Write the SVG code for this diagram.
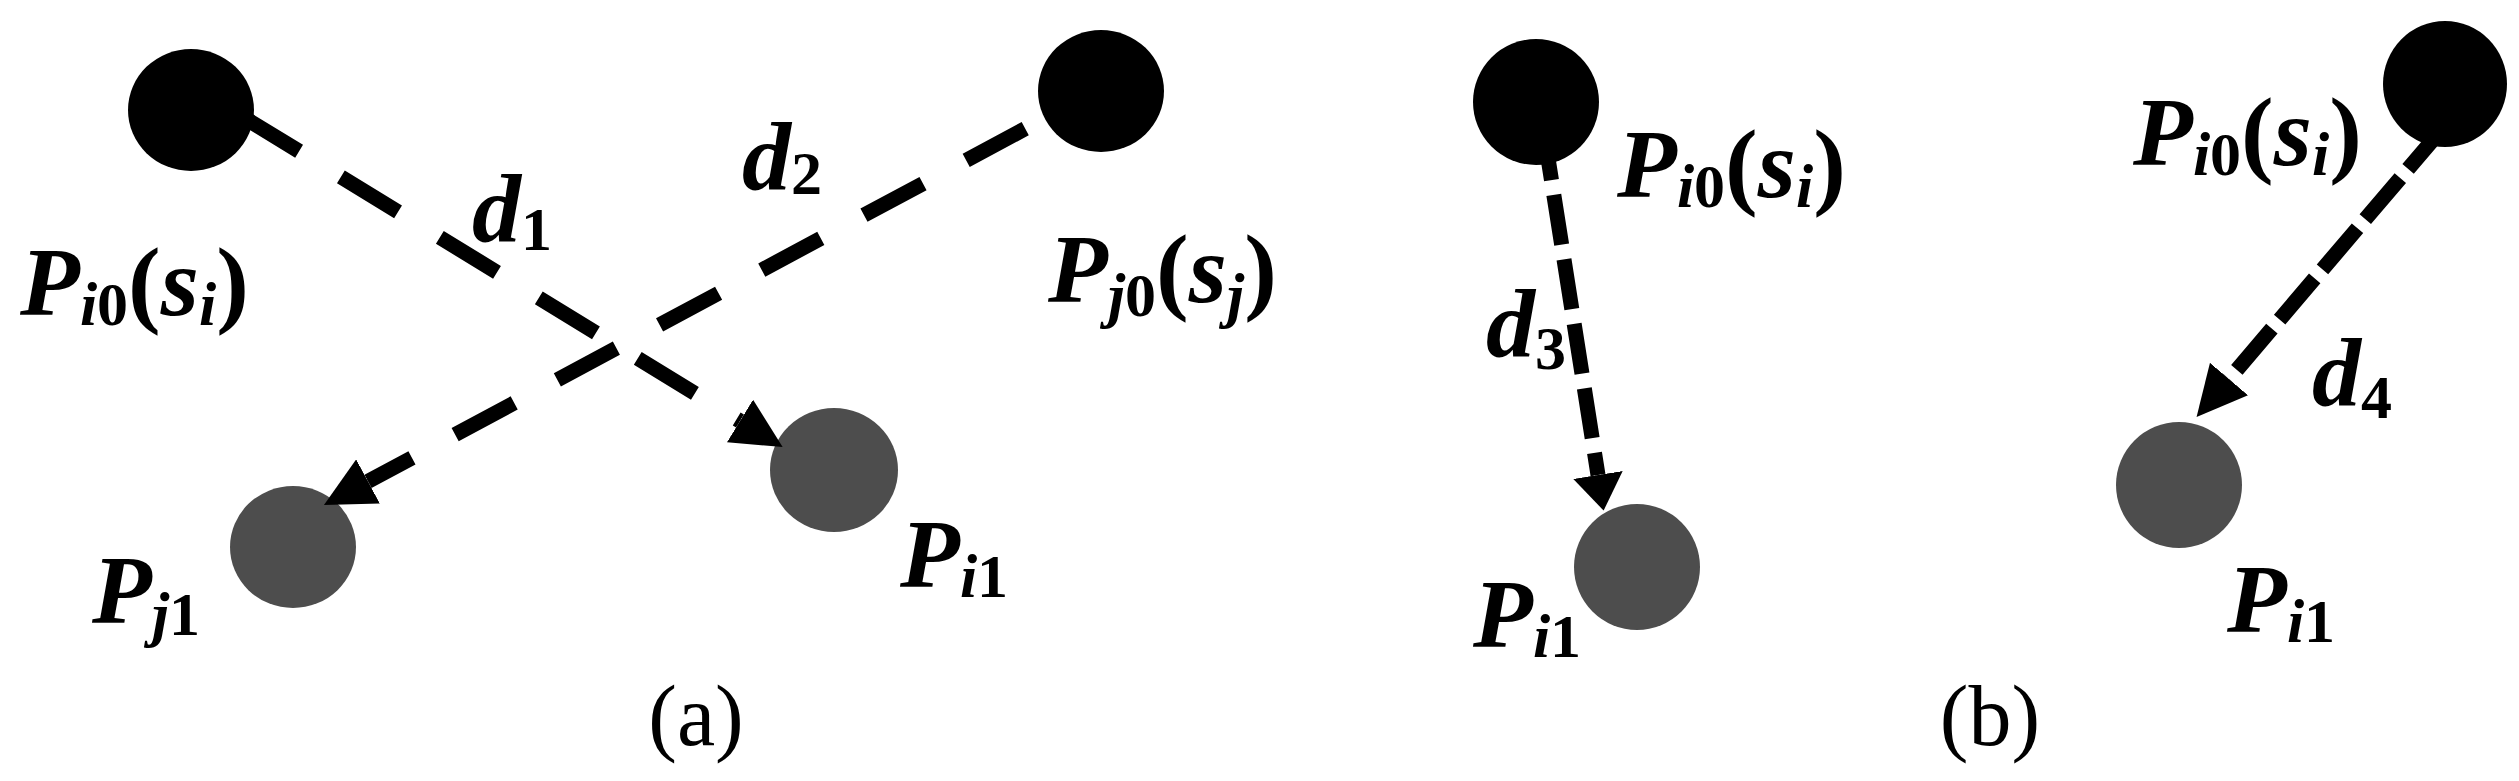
<svg xmlns="http://www.w3.org/2000/svg" width="2519" height="781" viewBox="0 0 2519 781" font-family="Liberation Serif, Times New Roman, serif">
<style>
.blk{fill:#000}
.gry{fill:#4d4d4d}
.conn{fill:none;stroke:#000;stroke-width:15;stroke-linecap:butt}
.lbl{font-family:'Times New Roman','Liberation Serif',Tinos,Times,serif;font-weight:bold;font-size:98px;fill:#000}
.it{font-style:italic}
.sub{font-size:62px}
.cap{font-family:'Times New Roman','Liberation Serif',Tinos,Times,serif;font-size:86px;fill:#000;text-anchor:middle}
</style>
<defs>
<marker id="arr" markerUnits="userSpaceOnUse" viewBox="0 0 50 50" markerWidth="50" markerHeight="50" refX="0" refY="25" orient="auto">
<path d="M0,0 L50,25 L0,50 Z" fill="#000"/>
</marker>
<marker id="arrS" markerUnits="userSpaceOnUse" viewBox="0 0 36 50" markerWidth="36" markerHeight="50" refX="0" refY="25" orient="auto">
<path d="M0,0 L36,25 L0,50 Z" fill="#000"/>
</marker>
</defs>
<rect width="2519" height="781" fill="#fff"/>

<g id="node-Pi0-a">
<ellipse class="blk" cx="191" cy="110" rx="63" ry="61"/>
<text class="lbl" x="20" y="315"><tspan class="it">P</tspan><tspan class="it sub" dy="10">i</tspan><tspan class="sub">0</tspan><tspan dy="-10">(</tspan><tspan class="it">s</tspan><tspan class="it sub" dy="10">i</tspan><tspan dy="-10">)</tspan></text>
</g>
<g id="node-Pj0-a">
<ellipse class="blk" cx="1101" cy="91" rx="63" ry="61"/>
<text class="lbl" x="1048" y="302"><tspan class="it">P</tspan><tspan class="it sub" dy="14">j</tspan><tspan class="sub">0</tspan><tspan dy="-14">(</tspan><tspan class="it">s</tspan><tspan class="it sub" dy="14">j</tspan><tspan dy="-14">)</tspan></text>
</g>
<g id="node-Pj1-a">
<ellipse class="gry" cx="293" cy="547" rx="63" ry="61"/>
<text class="lbl" x="92" y="623"><tspan class="it">P</tspan><tspan class="it sub" dy="12">j</tspan><tspan class="sub">1</tspan></text>
</g>
<g id="node-Pi1-a">
<ellipse class="gry" cx="834" cy="470" rx="64" ry="62"/>
<text class="lbl" x="900" y="587"><tspan class="it">P</tspan><tspan class="it sub" dy="10">i</tspan><tspan class="sub">1</tspan></text>
</g>

<g id="node-Pi0-b1">
<ellipse class="blk" cx="1536" cy="102" rx="63" ry="63"/>
<text class="lbl" x="1617" y="197"><tspan class="it">P</tspan><tspan class="it sub" dy="10">i</tspan><tspan class="sub">0</tspan><tspan dy="-10">(</tspan><tspan class="it">s</tspan><tspan class="it sub" dy="10">i</tspan><tspan dy="-10">)</tspan></text>
</g>
<g id="node-Pi1-b1">
<ellipse class="gry" cx="1637" cy="567" rx="63" ry="63"/>
<text class="lbl" x="1473" y="647"><tspan class="it">P</tspan><tspan class="it sub" dy="10">i</tspan><tspan class="sub">1</tspan></text>
</g>
<g id="node-Pi0-b2">
<ellipse class="blk" cx="2445" cy="84" rx="62" ry="63"/>
<text class="lbl" x="2133" y="165"><tspan class="it">P</tspan><tspan class="it sub" dy="10">i</tspan><tspan class="sub">0</tspan><tspan dy="-10">(</tspan><tspan class="it">s</tspan><tspan class="it sub" dy="10">i</tspan><tspan dy="-10">)</tspan></text>
</g>
<g id="node-Pi1-b2">
<ellipse class="gry" cx="2179" cy="485" rx="63" ry="63"/>
<text class="lbl" x="2227" y="632"><tspan class="it">P</tspan><tspan class="it sub" dy="10">i</tspan><tspan class="sub">1</tspan></text>
</g>

<g id="connectors">
<line class="conn" x1="230" y1="109" x2="740" y2="421" stroke-dasharray="67 49" stroke-dashoffset="102" marker-end="url(#arr)"/>
<line class="conn" x1="1101" y1="88" x2="368" y2="481.4" stroke-dasharray="67 49" stroke-dashoffset="30" marker-end="url(#arr)"/>
<line class="conn" x1="1542" y1="120" x2="1598" y2="475" stroke-dasharray="50.3 15" stroke-dashoffset="54.8" marker-end="url(#arrS)"/>
<line class="conn" x1="2460" y1="108" x2="2229" y2="379" stroke-dasharray="54 12" stroke-dashoffset="40" marker-end="url(#arr)"/>
<text class="lbl" x="472" y="242"><tspan class="it">d</tspan><tspan class="sub" dy="8">1</tspan></text>
<text class="lbl" x="742" y="190"><tspan class="it">d</tspan><tspan class="sub" dy="4">2</tspan></text>
<text class="lbl" x="1486" y="357"><tspan class="it">d</tspan><tspan class="sub" dy="12">3</tspan></text>
<text class="lbl" x="2312" y="406"><tspan class="it">d</tspan><tspan class="sub" dy="12">4</tspan></text>
</g>

<text class="cap" x="696" y="745">(a)</text>
<text class="cap" x="1990" y="745">(b)</text>
</svg>
